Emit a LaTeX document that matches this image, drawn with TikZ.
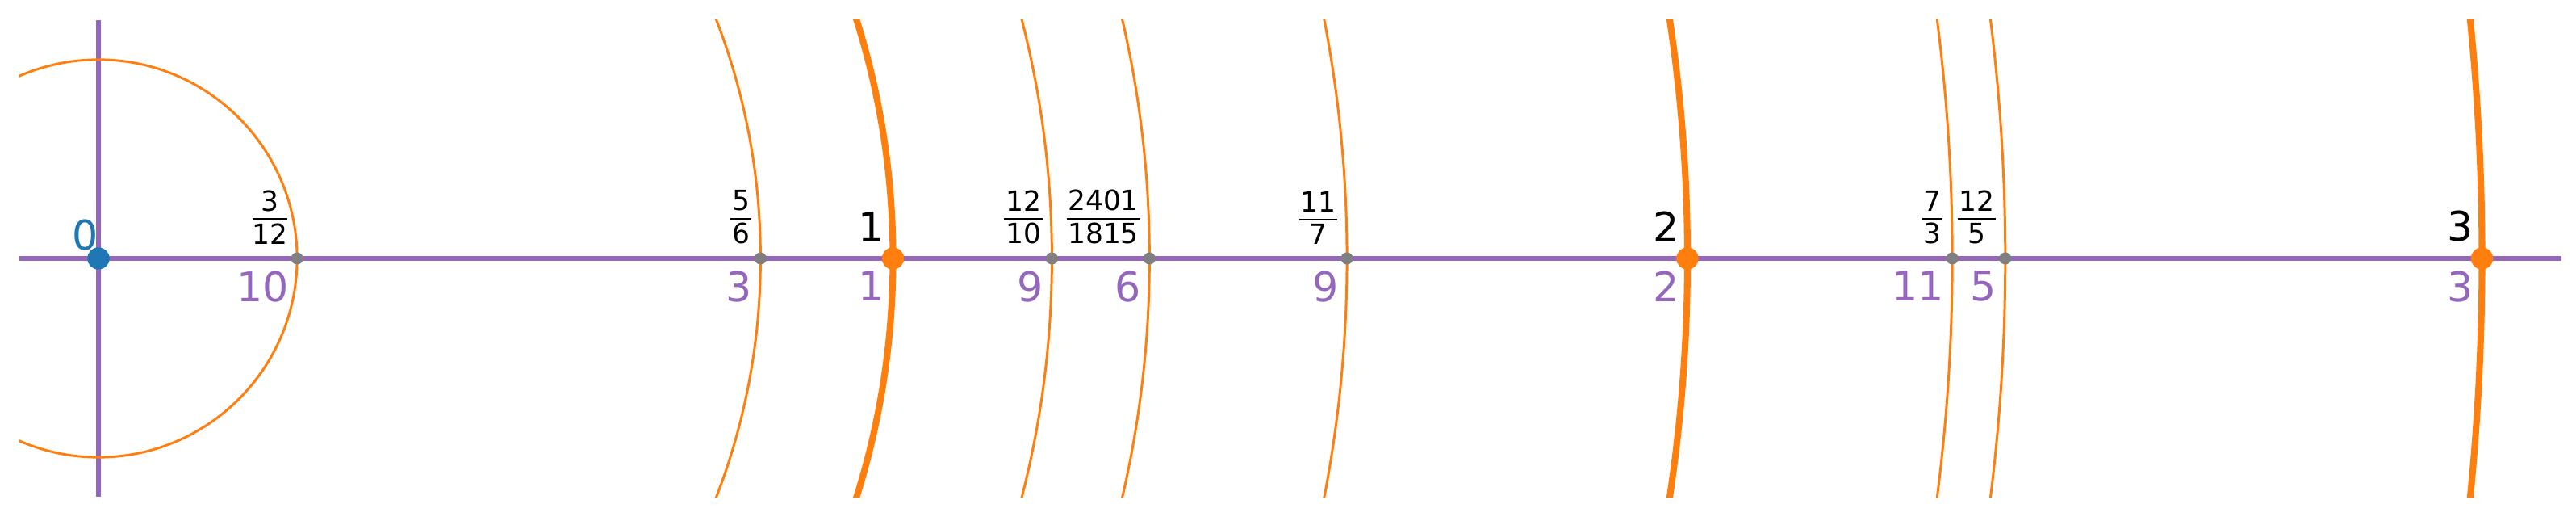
\documentclass[tikz,border=0pt]{standalone}
\usepackage{fontspec}
\setmainfont{DejaVu Sans}
\definecolor{mpurple}{HTML}{9467BD}
\definecolor{morange}{HTML}{FF7F0E}
\definecolor{mblue}{HTML}{1F77B4}
\definecolor{mgray}{HTML}{7F7F7F}
\newcommand\vfr[2]{\vbox{\offinterlineskip\halign{\hfil##\hfil\cr\kern0.5pt#1\kern0.5pt\cr\noalign{\kern2.4pt\hrule height0.6pt\kern1.3pt}#2\cr}}}
\begin{document}
\begin{tikzpicture}[x=9.845cm,y=9.845cm,
  axisline/.style={draw=mpurple,line width=1.5pt},
  thinarc/.style={draw=morange,line width=0.85pt},
  thickarc/.style={draw=morange,line width=2.3pt},
  bigdot/.style={circle,inner sep=0pt,minimum size=0.275cm,fill=#1},
  smalldot/.style={circle,inner sep=0pt,minimum size=0.15cm,fill=mgray},
  toplab/.style={anchor=south east,inner sep=0pt,font=\fontsize{14.4}{17}\selectfont,text=black},
  fraclab/.style={anchor=south east,inner sep=0pt,font=\fontsize{9.8}{11}\selectfont,text=black},
  botlab/.style={anchor=north east,inner sep=0pt,font=\fontsize{14.4}{17}\selectfont,text=mpurple}
]
\useasboundingbox (-1.22cm,-3.30cm) rectangle (30.70cm,3.20cm);
\coordinate (xl) at (-0.1,0);
\coordinate (xr) at (3.1,0);
\coordinate (yt) at (0,0.3);
\coordinate (yb) at (0,-0.3);
\draw[axisline] (xl) -- (xr);
\draw[axisline] (yb) -- (yt);
\begin{scope}
  \clip (-0.1,-0.3) rectangle (3.1,0.3);
  \foreach \r in {0.25,0.833333,1.2,1.322865,1.571429,2.333333,2.4}
    \draw[thinarc] (0,0) circle[radius=\r];
  \foreach \r in {1,2,3}
    \draw[thickarc] (0,0) circle[radius=\r];
\end{scope}
% points
\node[bigdot=mblue] (p0) at (0,0) {};
\node[smalldot] (qa) at (0.25,0) {};
\node[smalldot] (qb) at (0.833333,0) {};
\node[bigdot=morange] (p1) at (1,0) {};
\node[smalldot] (qc) at (1.2,0) {};
\node[smalldot] (qd) at (1.322865,0) {};
\node[smalldot] (qe) at (1.571429,0) {};
\node[bigdot=morange] (p2) at (2,0) {};
\node[smalldot] (qf) at (2.333333,0) {};
\node[smalldot] (qg) at (2.4,0) {};
\node[bigdot=morange] (p3) at (3,0) {};
% labels
\node[toplab,text=mblue] (l0) at ([yshift=0.09cm]p0.center) {0};
\node[toplab] (l1) at ([xshift=-0.10cm,yshift=0.20cm]p1.center) {1};
\node[toplab] (l2) at ([xshift=-0.10cm,yshift=0.20cm]p2.center) {2};
\node[toplab] (l3) at ([xshift=-0.10cm,yshift=0.20cm]p3.center) {3};
\node[fraclab] (ta) at ([xshift=-0.11cm,yshift=0.17cm]qa.center) {\vfr{3}{12}};
\node[fraclab] (tb) at ([xshift=-0.11cm,yshift=0.17cm]qb.center) {\vfr{5}{6}};
\node[fraclab] (tc) at ([xshift=-0.11cm,yshift=0.17cm]qc.center) {\vfr{12}{10}};
\node[fraclab] (td) at ([xshift=-0.11cm,yshift=0.17cm]qd.center) {\vfr{2401}{1815}};
\node[fraclab] (te) at ([xshift=-0.11cm,yshift=0.17cm]qe.center) {\vfr{11}{7}};
\node[fraclab] (tf) at ([xshift=-0.11cm,yshift=0.17cm]qf.center) {\vfr{7}{3}};
\node[fraclab] (tg) at ([xshift=-0.11cm,yshift=0.17cm]qg.center) {\vfr{12}{5}};
\node[botlab] (ba) at ([xshift=-0.10cm,yshift=-0.15cm]qa.center) {10};
\node[botlab] (bb) at ([xshift=-0.10cm,yshift=-0.15cm]qb.center) {3};
\node[botlab] (b1) at ([xshift=-0.10cm,yshift=-0.15cm]p1.center) {1};
\node[botlab] (bc) at ([xshift=-0.10cm,yshift=-0.15cm]qc.center) {9};
\node[botlab] (bd) at ([xshift=-0.10cm,yshift=-0.15cm]qd.center) {6};
\node[botlab] (be) at ([xshift=-0.10cm,yshift=-0.15cm]qe.center) {9};
\node[botlab] (b2) at ([xshift=-0.10cm,yshift=-0.15cm]p2.center) {2};
\node[botlab] (bf) at ([xshift=-0.10cm,yshift=-0.15cm]qf.center) {11};
\node[botlab] (bg) at ([xshift=-0.10cm,yshift=-0.15cm]qg.center) {5};
\node[botlab] (b3) at ([xshift=-0.10cm,yshift=-0.15cm]p3.center) {3};
\end{tikzpicture}
\end{document}
